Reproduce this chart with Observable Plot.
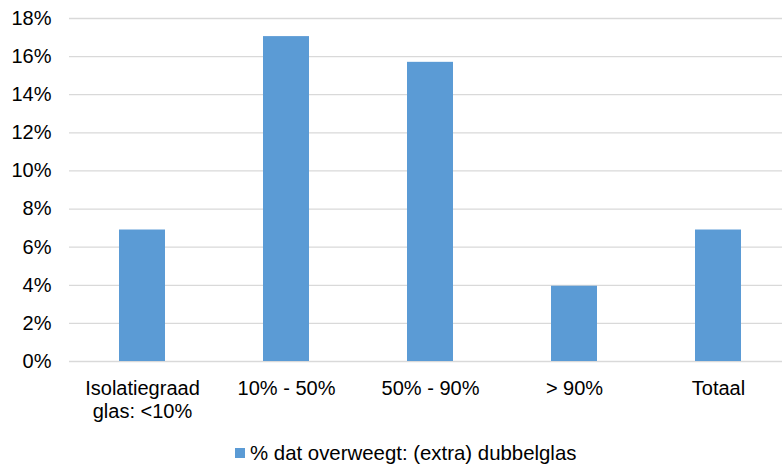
<!DOCTYPE html>
<html>
<head>
<meta charset="utf-8">
<script src="https://cdn.jsdelivr.net/npm/d3@7"></script>
<script src="https://cdn.jsdelivr.net/npm/@observablehq/plot@0.6"></script>
<style>
  body { margin: 0; background: #fff; font-family: "Liberation Sans", Arial, sans-serif; }
  #wrap { position: relative; width: 782px; height: 466px; }
  #legend { position: absolute; left: 235px; top: 441px; height: 24px; display: flex; align-items: center; font-size: 20.4px; color: #000; white-space: nowrap; }
  #legend .sw { width: 10px; height: 10px; background: #5B9BD5; margin-right: 5px; }
</style>
</head>
<body>
<div id="wrap"><div id="chart"></div><div id="legend"></div></div>
<script>
const categories = ["Isolatiegraad\nglas: <10%", "10% - 50%", "50% - 90%", "> 90%", "Totaal"];
const values = [0.069, 0.1705, 0.157, 0.0395, 0.069];
const yTicks = [0, 0.02, 0.04, 0.06, 0.08, 0.10, 0.12, 0.14, 0.16, 0.18];
const seriesName = "% dat overweegt: (extra) dubbelglas";
const barColor = "#5B9BD5";

const data = categories.map((c, i) => ({cat: c, value: values[i]}));

const chart = Plot.plot({
  width: 782,
  height: 430,
  marginTop: 18,
  marginBottom: 69,
  marginLeft: 69,
  marginRight: 0,
  style: {fontFamily: '"Liberation Sans", Arial, sans-serif', fontSize: "20px", color: "#000", background: "#fff"},
  x: {domain: categories, range: [69, 791], paddingInner: 0.684, paddingOuter: 0.342, axis: null},
  y: {domain: [0, 0.18], axis: null},
  marks: [
    Plot.gridY(yTicks, {stroke: "#d9d9d9", strokeOpacity: 1, strokeWidth: 1.3}),
    Plot.barY(data, {x: "cat", y: "value", fill: barColor}),
    Plot.axisY(yTicks, {tickSize: 0, tickPadding: 18, tickFormat: d3.format(".0%"), fill: "#000", fontSize: 20, label: null}),
    Plot.axisX({tickSize: 0, tickPadding: 17, lineHeight: 1.15, fill: "#000", fontSize: 20, label: null})
  ]
});
document.getElementById("chart").appendChild(chart);

const legend = document.getElementById("legend");
const sw = document.createElement("span"); sw.className = "sw";
const lab = document.createElement("span"); lab.textContent = seriesName;
legend.appendChild(sw); legend.appendChild(lab);
</script>
</body>
</html>
